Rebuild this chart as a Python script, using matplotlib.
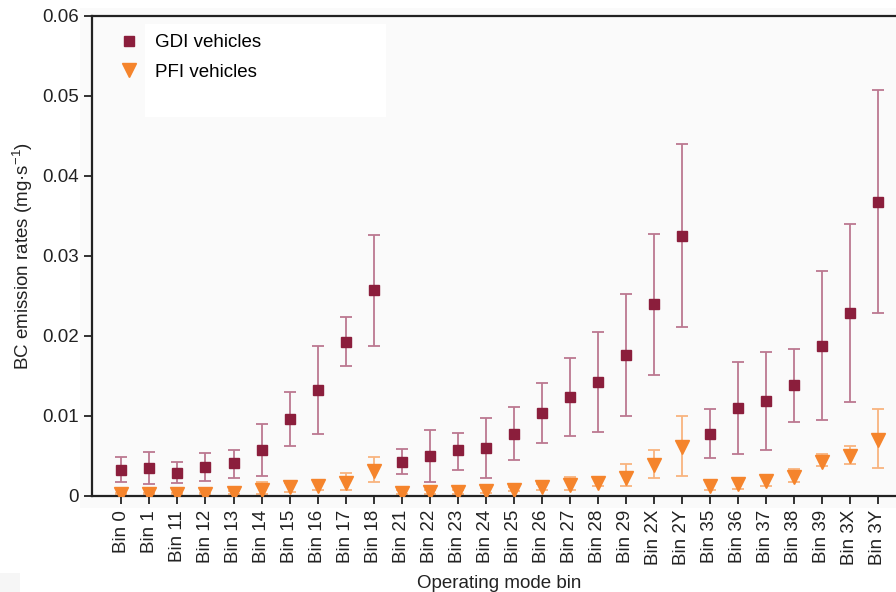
from matplotlib import pyplot as plt
from matplotlib.patches import Rectangle
from matplotlib.lines import Line2D


####################################################################################################
#                                             Setting                                              #
####################################################################################################
plt.rcParams['font.family'] = ['Liberation Sans', 'DejaVu Sans']
plt.rcParams['mathtext.default'] = 'regular'
plt.rcParams['font.size'] = 13.5


####################################################################################################
#                                             Variable                                             #
####################################################################################################
bins = ['Bin 0', 'Bin 1', 'Bin 11', 'Bin 12', 'Bin 13', 'Bin 14', 'Bin 15', 'Bin 16', 'Bin 17',
        'Bin 18', 'Bin 21', 'Bin 22', 'Bin 23', 'Bin 24', 'Bin 25', 'Bin 26', 'Bin 27', 'Bin 28',
        'Bin 29', 'Bin 2X', 'Bin 2Y', 'Bin 35', 'Bin 36', 'Bin 37', 'Bin 38', 'Bin 39', 'Bin 3X',
        'Bin 3Y']

gdi = [0.0033, 0.0035, 0.0029, 0.0036, 0.0041, 0.0058, 0.0096, 0.0133, 0.0193, 0.0258,
       0.0043, 0.0050, 0.0057, 0.0060, 0.0078, 0.0104, 0.0124, 0.0143, 0.0176, 0.0240,
       0.0325, 0.0078, 0.0110, 0.0119, 0.0139, 0.0188, 0.0229, 0.0368]
gdi_hi = [0.0049, 0.0055, 0.0042, 0.0054, 0.0058, 0.0090, 0.0130, 0.0188, 0.0224, 0.0326,
          0.0059, 0.0082, 0.0079, 0.0098, 0.0111, 0.0141, 0.0172, 0.0205, 0.0253, 0.0327,
          0.0440, 0.0109, 0.0168, 0.0180, 0.0184, 0.0281, 0.0340, 0.0507]
gdi_lo = [0.0017, 0.0015, 0.0016, 0.0019, 0.0023, 0.0025, 0.0063, 0.0078, 0.0162, 0.0188,
          0.0027, 0.0018, 0.0033, 0.0022, 0.0045, 0.0066, 0.0075, 0.0080, 0.0100, 0.0151,
          0.0211, 0.0047, 0.0052, 0.0058, 0.0093, 0.0095, 0.0118, 0.0229]

pfi = [0.0003, 0.0003, 0.0003, 0.0003, 0.0004, 0.0007, 0.0011, 0.0013, 0.0016, 0.0031,
       0.0004, 0.0005, 0.0005, 0.0006, 0.0008, 0.0011, 0.0014, 0.0016, 0.0023, 0.0039,
       0.0061, 0.0013, 0.0015, 0.0019, 0.0024, 0.0043, 0.0050, 0.0070]
pfi_hi = [0.0004, 0.0004, 0.0004, 0.0004, 0.0006, 0.0017, 0.0016, 0.0019, 0.0029, 0.0049,
          0.0007, 0.0008, 0.0008, 0.0010, 0.0011, 0.0015, 0.0024, 0.0023, 0.0040, 0.0057,
          0.0100, 0.0020, 0.0023, 0.0025, 0.0034, 0.0052, 0.0063, 0.0109]
pfi_lo = [0.0002, 0.0002, 0.0002, 0.0002, 0.0003, 0.0003, 0.0005, 0.0008, 0.0007, 0.0017,
          0.0002, 0.0003, 0.0003, 0.0004, 0.0006, 0.0008, 0.0008, 0.0012, 0.0013, 0.0023,
          0.0025, 0.0008, 0.0009, 0.0013, 0.0017, 0.0037, 0.0040, 0.0035]

y_ticks = [0, 0.01, 0.02, 0.03, 0.04, 0.05, 0.06]
y_tick_labels = ['0', '0.01', '0.02', '0.03', '0.04', '0.05', '0.06']

gdi_color = '#8b1e3c'
gdi_err_color = '#bb7890'
pfi_color = '#f5842c'
pfi_err_color = '#f8b47e'


####################################################################################################
#                                             Function                                             #
####################################################################################################
def draw_chart():
    fig = plt.figure(figsize=(8.96, 5.92), dpi=100, facecolor='white')

    # faint grey panel behind the plot
    fig.patches.append(Rectangle((80 / 896, 1 - 508 / 592), 816 / 896, 500 / 592,
                                 transform=fig.transFigure, facecolor='#fafafa',
                                 edgecolor='none', zorder=-2))
    fig.patches.append(Rectangle((0, 0), 20 / 896, 19 / 592, transform=fig.transFigure,
                                 facecolor='#f6f6f6', edgecolor='none', zorder=-2))

    ax = fig.add_axes([92 / 896, 96 / 592, 814 / 896, 480 / 592])
    ax.set_zorder(1)
    ax.set_facecolor('none')

    x = list(range(len(bins)))

    # error bars
    gdi_err = [[m - lo for m, lo in zip(gdi, gdi_lo)], [hi - m for m, hi in zip(gdi, gdi_hi)]]
    pfi_err = [[m - lo for m, lo in zip(pfi, pfi_lo)], [hi - m for m, hi in zip(pfi, pfi_hi)]]
    ax.errorbar(x, gdi, yerr=gdi_err, fmt='none', ecolor=gdi_err_color, elinewidth=1.3,
                capsize=4, capthick=1.3, zorder=2)
    ax.errorbar(x, pfi, yerr=pfi_err, fmt='none', ecolor=pfi_err_color, elinewidth=1.3,
                capsize=4, capthick=1.3, zorder=2)

    # markers
    ax.plot(x, gdi, linestyle='none', marker='s', markersize=7.5, color=gdi_color, zorder=3)
    ax.plot(x, pfi, linestyle='none', marker='v', markersize=10, color=pfi_color, zorder=3)

    # Axis setting
    ax.set_xlim(-1.05, 28)
    ax.set_ylim(0, 0.06)
    ax.set_xticks(x)
    ax.set_xticklabels(bins, rotation=90)
    ax.set_yticks(y_ticks)
    ax.set_yticklabels(y_tick_labels)
    ax.tick_params(axis='both', direction='out', length=6, width=1.3, color='#222222',
                   labelcolor='#222222', labelsize=13.5)
    ax.tick_params(axis='x', pad=4)
    for side in ['left', 'bottom', 'top']:
        ax.spines[side].set_linewidth(1.6)
        ax.spines[side].set_color('#222222')
    ax.spines['right'].set_visible(False)

    ax.set_xlabel('Operating mode bin', fontsize=13.5, color='#222222', labelpad=7)
    ax.set_ylabel('BC emission rates (mg·s$^{-1}$)', fontsize=13.5, color='#222222',
                  labelpad=5)

    # legend
    ax.add_patch(Rectangle((145 / 896, 1 - 117 / 592), 241 / 896, 93 / 592,
                           transform=fig.transFigure, facecolor='white', edgecolor='none',
                           zorder=4))
    handles = [
        Line2D([], [], linestyle='none', marker='s', markersize=7.5, color=gdi_color),
        Line2D([], [], linestyle='none', marker='v', markersize=10, color=pfi_color),
    ]
    ax.legend(handles, ['GDI vehicles', 'PFI vehicles'], loc='center left',
              bbox_to_anchor=(121 / 896, 1 - 57.5 / 592), bbox_transform=fig.transFigure,
              frameon=False, borderpad=0, borderaxespad=0, handlelength=0.8,
              handletextpad=1.0, labelspacing=0.68, fontsize=13.5, numpoints=1)

    plt.savefig('out.png', dpi=100)
    plt.close()


draw_chart()
